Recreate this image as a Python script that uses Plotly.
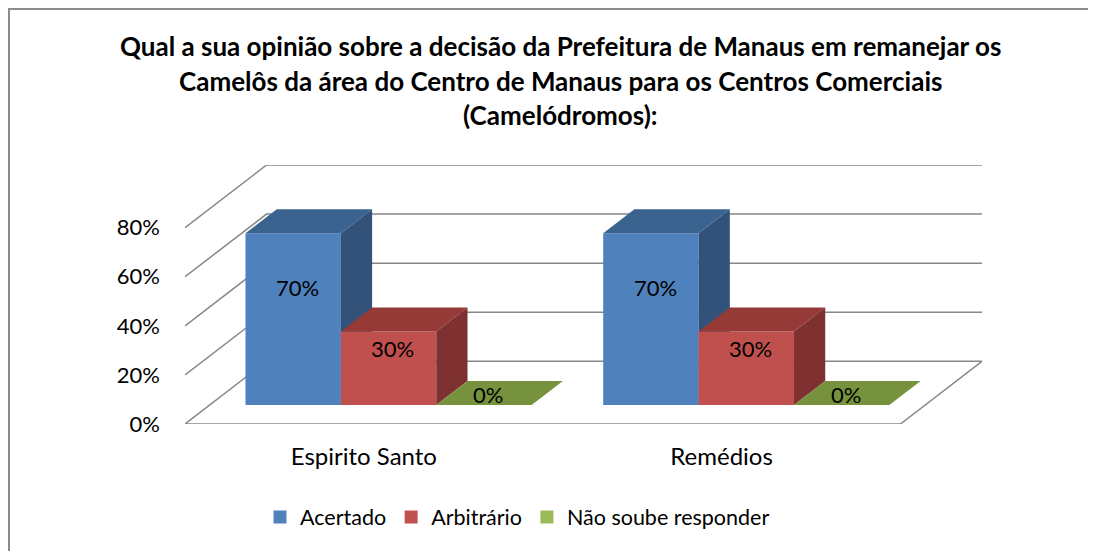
import plotly.graph_objects as go

# ---------------- data ----------------
categories = ["Espirito Santo", "Remédios"]
series_names = ["Acertado", "Arbitrário", "Não soube responder"]
acertado = [70, 70]
arbitrario = [30, 30]
nao_soube = [0, 0]
y_ticks = [0, 20, 40, 60, 80]
y_tick_labels = ["0%", "20%", "40%", "60%", "80%"]
title_lines = [
    "Qual a sua opinião sobre a decisão da Prefeitura de Manaus em remanejar os",
    "Camelôs da área do Centro de Manaus para os Centros Comerciais",
    "(Camelódromos):",
]

series_values = [acertado, arbitrario, nao_soube]
front_colors = ["#4F81BD", "#C0504D", "#9BBB59"]
top_colors = ["#3B6390", "#963A38", "#76923C"]
side_colors = ["#32527A", "#7E3130", "#637B32"]

# ---------------- geometry (pseudo-3D oblique projection) ----------------
OFF = 8  # page body margin of the html page
W, H = 1096 - OFF, 551 - OFF
ML = 185 - OFF
MT = 165 - OFF
MR = W - (982 - OFF)
MB = H - (424 - OFF)
DX_FULL = 0.228      # depth offset in x units (category units)
DY_FULL = 25.55      # depth offset in y units (percent)
D0, D1 = 0.303, 0.686  # bar depth range (fraction of floor depth)
GROUP_W = 0.8
BW = GROUP_W / 3
YMAX = max(y_ticks)
X_MIN, X_MAX = -0.5, len(categories) - 0.5
PW = W - ML - MR
PH = H - MT - MB


def px_x(p):
    return (p - OFF - ML) / PW


def px_y(p):
    return (H - MB - (p - OFF)) / PH


fig = go.Figure()

wall = dict(color="#868686", width=1.5)
for t in y_ticks:
    fig.add_trace(go.Scatter(
        x=[X_MIN, X_MIN + DX_FULL, X_MAX + DX_FULL],
        y=[t, t + DY_FULL, t + DY_FULL],
        mode="lines", line=wall, hoverinfo="skip", showlegend=False))
fig.add_trace(go.Scatter(
    x=[X_MIN, X_MAX, X_MAX + DX_FULL],
    y=[0, 0, DY_FULL],
    mode="lines", line=wall, hoverinfo="skip", showlegend=False))

ddx = (D1 - D0) * DX_FULL
ddy = (D1 - D0) * DY_FULL
yb = D0 * DY_FULL

annotations = []
for s, (vals, name) in enumerate(zip(series_values, series_names)):
    fx, fy, tx, ty, sx, sy = [], [], [], [], [], []
    for ci, v in enumerate(vals):
        x0 = ci - GROUP_W / 2 + s * BW + D0 * DX_FULL
        x1 = x0 + BW
        yt = yb + v
        fx += [x0, x1, x1, x0, x0, None]
        fy += [yb, yb, yt, yt, yb, None]
        tx += [x0, x1, x1 + ddx, x0 + ddx, x0, None]
        ty += [yt, yt, yt + ddy, yt + ddy, yt, None]
        sx += [x1, x1 + ddx, x1 + ddx, x1, x1, None]
        sy += [yb, yb + ddy, yt + ddy, yt, yb, None]
        annotations.append(dict(
            x=(x0 + x1) / 2 + 0.012, y=yb + 4.1 + 0.625 * v,
            xref="x", yref="y", text=f"{v}%", showarrow=False,
            font=dict(family="Lato", size=22, color="#000000")))
    if max(vals) > 0:
        fig.add_trace(go.Scatter(x=fx, y=fy, fill="toself", mode="lines",
                                 line=dict(width=0), fillcolor=front_colors[s],
                                 hoverinfo="skip", showlegend=False))
        fig.add_trace(go.Scatter(x=sx, y=sy, fill="toself", mode="lines",
                                 line=dict(width=0), fillcolor=side_colors[s],
                                 hoverinfo="skip", showlegend=False))
    fig.add_trace(go.Scatter(x=tx, y=ty, fill="toself", mode="lines",
                             line=dict(width=0), fillcolor=top_colors[s],
                             hoverinfo="skip", showlegend=False))
    fig.add_trace(go.Scatter(x=[None], y=[None], mode="markers", name=name,
                             marker=dict(symbol="square", size=13,
                                         color=front_colors[s])))

title_y_px = [46, 81, 115]
for line, py in zip(title_lines, title_y_px):
    annotations.append(dict(
        x=px_x(560), y=px_y(py), xref="paper", yref="paper",
        text=f"<b>{line}</b>", showarrow=False, xanchor="center", yanchor="middle",
        font=dict(family="Lato", size=26, color="#000000")))

shapes = [dict(
    type="rect", xref="paper", yref="paper",
    x0=px_x(9), x1=px_x(1096 + 30),
    y0=px_y(551 + 30), y1=px_y(9),
    line=dict(color="#8C8C8C", width=2), fillcolor="rgba(0,0,0,0)", layer="below")]

fig.update_layout(
    width=W, height=H,
    margin=dict(l=ML, r=MR, t=MT, b=MB, pad=0),
    paper_bgcolor="white", plot_bgcolor="white",
    font=dict(family="Lato", size=22, color="#000000"),
    xaxis=dict(range=[X_MIN, X_MAX + DX_FULL], showgrid=False, zeroline=False,
               showline=False, tickmode="array",
               tickvals=list(range(len(categories))), ticktext=categories,
               tickfont=dict(size=24),
               ticks="", ticklabelstandoff=16, fixedrange=True),
    yaxis=dict(range=[0, YMAX + DY_FULL], showgrid=False, zeroline=False,
               showline=False, tickmode="array", tickvals=y_ticks,
               ticktext=y_tick_labels, ticks="", ticklabelstandoff=24,
               fixedrange=True),
    legend=dict(orientation="h", x=px_x(260), xanchor="left",
                y=px_y(517), yanchor="middle",
                font=dict(family="Lato", size=21.5), itemwidth=30,
                bgcolor="rgba(0,0,0,0)"),
    annotations=annotations,
    shapes=shapes,
)

fig.write_html("out.html", config={"displayModeBar": False})
